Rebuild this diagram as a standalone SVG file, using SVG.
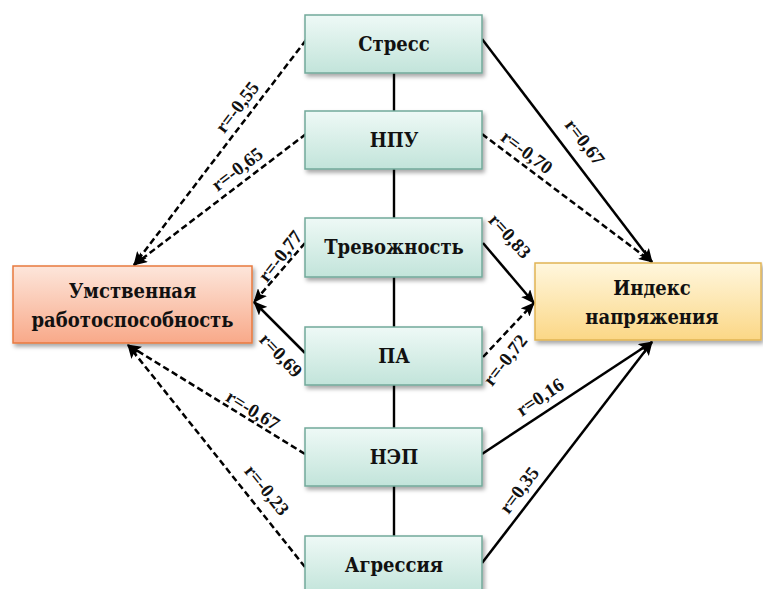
<svg xmlns="http://www.w3.org/2000/svg" width="763" height="589" viewBox="0 0 763 589">
<style>
.node{fill:url(#gMint);stroke:#72a99a;stroke-width:1.5;filter:url(#sh)}
.nt{font-family:'DejaVu Serif Condensed','DejaVu Serif',serif;font-weight:700;font-size:20px;fill:#111;text-anchor:middle}
.lbl{font-family:'Liberation Serif','Times New Roman',serif;font-weight:700;font-size:19px;fill:#111;text-anchor:middle;dominant-baseline:central}
.c{stroke:#000;stroke-width:2.5;fill:none}
.d{stroke-dasharray:6.5,3.5}
.v{stroke:#000;stroke-width:2.4}
</style>
<defs>
<linearGradient id="gMint" x1="0" y1="0" x2="0" y2="1">
<stop offset="0" stop-color="#eef9f6"/><stop offset="1" stop-color="#c2e4da"/>
</linearGradient>
<linearGradient id="gOr" x1="0" y1="0" x2="0" y2="1">
<stop offset="0" stop-color="#fde6db"/><stop offset="1" stop-color="#f8a989"/>
</linearGradient>
<linearGradient id="gYe" x1="0" y1="0" x2="0" y2="1">
<stop offset="0" stop-color="#fff7de"/><stop offset="1" stop-color="#fbd786"/>
</linearGradient>
<filter id="sh" x="-10%" y="-10%" width="130%" height="140%">
<feDropShadow dx="2" dy="3" stdDeviation="2" flood-color="#000" flood-opacity="0.35"/>
</filter>
<marker id="ah" markerUnits="userSpaceOnUse" markerWidth="14" markerHeight="12" refX="13" refY="6" orient="auto">
<path d="M0,0 L14,6 L0,12 L3,6 z" fill="#000"/>
</marker>
</defs>

<g id="connectors">
<line class="v" x1="394" y1="73" x2="394" y2="111"/>
<line class="v" x1="394" y1="169" x2="394" y2="218"/>
<line class="v" x1="394" y1="277" x2="394" y2="327"/>
<line class="v" x1="394" y1="385" x2="394" y2="428"/>
<line class="v" x1="394" y1="486" x2="394" y2="536"/>

<line class="c d" x1="306" y1="40" x2="134" y2="265" marker-end="url(#ah)"/>
<line class="c d" x1="306" y1="134" x2="134" y2="265" marker-end="url(#ah)"/>
<line class="c d" x1="305" y1="243" x2="254" y2="302" marker-end="url(#ah)"/>
<line class="c" x1="305" y1="353" x2="254" y2="302" marker-end="url(#ah)"/>
<line class="c d" x1="305" y1="454" x2="128" y2="345" marker-end="url(#ah)"/>
<line class="c d" x1="305" y1="567" x2="128" y2="345" marker-end="url(#ah)"/>

<line class="c" x1="482" y1="39" x2="652" y2="262" marker-end="url(#ah)"/>
<line class="c d" x1="482" y1="134" x2="652" y2="262" marker-end="url(#ah)"/>
<line class="c" x1="483" y1="243" x2="534" y2="303" marker-end="url(#ah)"/>
<line class="c d" x1="483" y1="357" x2="534" y2="303" marker-end="url(#ah)"/>
<line class="c" x1="482" y1="454" x2="652" y2="342" marker-end="url(#ah)"/>
<line class="c" x1="482" y1="563" x2="652" y2="342" marker-end="url(#ah)"/>

<text class="lbl" transform="translate(237,107) rotate(-52.6)">r=-0,55</text>
<text class="lbl" transform="translate(237,169) rotate(-37)">r=-0,65</text>
<text class="lbl" transform="translate(280,256) rotate(-52)">r=-0,77</text>
<text class="lbl" transform="translate(281,355) rotate(47)">r=0,69</text>
<text class="lbl" transform="translate(253,410) rotate(32)">r=-0,67</text>
<text class="lbl" transform="translate(267,490) rotate(51)">r=-0,23</text>
<text class="lbl" transform="translate(585,142) rotate(52.7)">r=0,67</text>
<text class="lbl" transform="translate(527,152) rotate(37)">r=-0,70</text>
<text class="lbl" transform="translate(510,236) rotate(48)">r=0,83</text>
<text class="lbl" transform="translate(505,360) rotate(-52)">r=-0,72</text>
<text class="lbl" transform="translate(540,397) rotate(-34)">r=0,16</text>
<text class="lbl" transform="translate(519,490) rotate(-53)">r=0,35</text>
</g>

<g id="stress"><rect class="node" x="305" y="15" width="177" height="58"/><text class="nt" x="394" y="51">Стресс</text></g>
<g id="npu"><rect class="node" x="305" y="111" width="177" height="58"/><text class="nt" x="394" y="147">НПУ</text></g>
<g id="trevozhnost"><rect class="node" x="305" y="218" width="177" height="59"/><text class="nt" x="394" y="254">Тревожность</text></g>
<g id="pa"><rect class="node" x="305" y="327" width="177" height="58"/><text class="nt" x="394" y="363">ПА</text></g>
<g id="nep"><rect class="node" x="305" y="428" width="177" height="58"/><text class="nt" x="394" y="464">НЭП</text></g>
<g id="agressiya"><rect class="node" x="305" y="536" width="177" height="58"/><text class="nt" x="394" y="572">Агрессия</text></g>

<g id="umstvennaya"><rect x="13" y="266" width="239" height="77" fill="url(#gOr)" stroke="#e8793f" stroke-width="1.5" filter="url(#sh)"/>
<text class="nt" x="132.5" y="298">Умственная</text><text class="nt" x="132.5" y="327">работоспособность</text></g>
<g id="indeks"><rect x="535" y="263" width="226" height="77" fill="url(#gYe)" stroke="#e1b454" stroke-width="1.5" filter="url(#sh)"/>
<text class="nt" x="652" y="295">Индекс</text><text class="nt" x="652" y="324">напряжения</text></g>
</svg>
